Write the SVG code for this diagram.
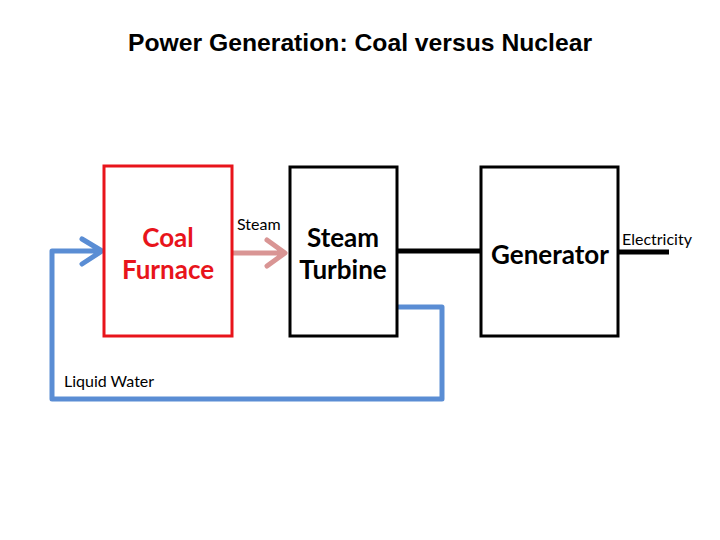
<svg xmlns="http://www.w3.org/2000/svg" width="720" height="540" viewBox="0 0 720 540">
<style>
.box{fill:#fff;stroke-width:3}
.lbl{font-family:Lato,"Open Sans","Liberation Sans",sans-serif;font-weight:bold;font-size:26px;text-anchor:middle}
.sm{font-family:Lato,"Open Sans","Liberation Sans",sans-serif;font-size:16px;fill:#000}
.water{fill:none;stroke:#5a8dd4;stroke-width:5;stroke-linejoin:round;stroke-linecap:round}
</style>
<rect width="720" height="540" fill="#fff"/>
<text x="360" y="51" font-family="'Liberation Sans',Arial,sans-serif" font-weight="bold" font-size="24" text-anchor="middle" textLength="464" lengthAdjust="spacingAndGlyphs">Power Generation: Coal versus Nuclear</text>
<g id="connectors">
<line x1="397" y1="251" x2="481" y2="251" stroke="#000" stroke-width="5"/>
<line x1="618" y1="252" x2="669" y2="252" stroke="#000" stroke-width="5"/>
<path d="M233 253 H284 M267 240 L285 253 L267 266" fill="none" stroke="#d99594" stroke-width="5" stroke-linecap="round" stroke-linejoin="round"/>
<path class="water" d="M398 307 H442 V399 H52 V251 H101 M82 239 L102 251 L82 264"/>
</g>
<g id="furnace">
<rect class="box" x="104" y="166" width="128" height="170" stroke="#e8141b"/>
<text class="lbl" x="168" y="247" fill="#e8141b">Coal</text>
<text class="lbl" x="168" y="279" fill="#e8141b">Furnace</text>
</g>
<g id="turbine">
<rect class="box" x="290" y="167" width="107" height="169" stroke="#000"/>
<text class="lbl" x="343" y="247" fill="#000">Steam</text>
<text class="lbl" x="343" y="279" fill="#000">Turbine</text>
</g>
<g id="generator">
<rect class="box" x="481" y="167" width="137" height="169" stroke="#000"/>
<text class="lbl" x="550" y="264" fill="#000">Generator</text>
</g>
<text class="sm" x="237" y="230">Steam</text>
<text class="sm" x="622" y="245">Electricity</text>
<text class="sm" x="64" y="387">Liquid Water</text>
</svg>
